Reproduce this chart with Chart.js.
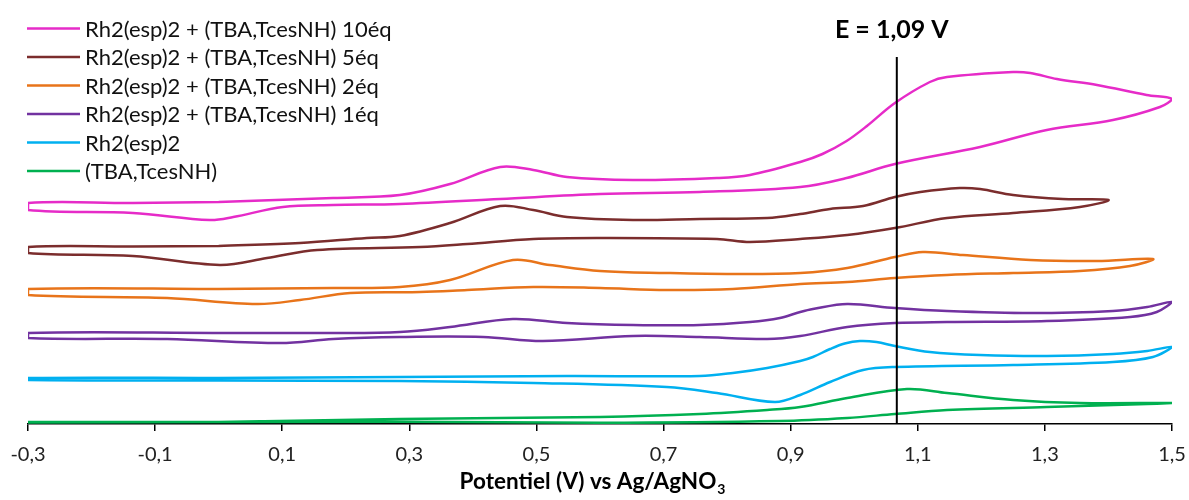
<!DOCTYPE html>
<html>
<head>
<meta charset="utf-8">
<script src="https://cdn.jsdelivr.net/npm/chart.js@4.4.0/dist/chart.umd.min.js"></script>
<style>
  html, body { margin: 0; padding: 0; background: #fff; }
  #wrap { width: 1189px; height: 500px; }
</style>
</head>
<body>
<div id="wrap"><canvas id="cv" width="1189" height="500"></canvas></div>
<script>
// potential (V) / current (arbitrary offset units), scan starts at 0 V
const rh10eq = [
  [0.0, 222], [0.18, 226], [0.285, 229], [0.364, 240], [0.443, 257], [0.495, 254], [0.548, 247],
  [0.652, 244], [0.784, 246], [0.836, 249], [0.915, 262], [0.95, 270], [0.988, 283], [1.02, 298],
  [1.064, 321], [1.119, 342], [1.146, 347], [1.25, 352], [1.277, 351], [1.319, 345], [1.382, 339],
  [1.46, 329], [1.5, 325],
  [1.481, 317], [1.407, 304], [1.303, 294], [1.198, 277], [1.064, 260], [0.988, 246], [0.915, 237],
  [0.757, 232], [0.6, 230], [0.443, 225], [0.285, 220], [0.18, 219], [0.101, 217], [0.023, 207],
  [-0.014, 204], [-0.135, 211], [-0.3, 214], [-0.3, 221], [-0.135, 221], [0.0, 222]
];
const rh5eq = [
  [0.0, 178], [0.128, 181], [0.233, 186], [0.285, 188], [0.364, 201], [0.443, 218], [0.495, 214],
  [0.548, 207], [0.652, 204], [0.757, 205], [0.863, 206], [0.915, 210], [0.962, 215], [1.014, 218],
  [1.064, 227], [1.104, 232], [1.166, 236], [1.198, 235], [1.25, 229], [1.328, 225], [1.4, 224],
  [1.355, 217], [1.25, 211], [1.146, 206], [1.064, 196], [0.989, 189], [0.915, 185], [0.836, 182],
  [0.784, 185], [0.6, 186], [0.495, 185], [0.391, 180], [0.317, 177], [0.155, 174], [0.076, 166],
  [0.002, 159], [-0.135, 168], [-0.3, 171], [-0.3, 177], [-0.135, 177.5], [0.0, 178]
];
const rh2eq = [
  [0.0, 135], [0.18, 136], [0.285, 137], [0.364, 144], [0.463, 164], [0.521, 159], [0.6, 153],
  [0.705, 151], [0.809, 150], [0.915, 151], [0.989, 156], [1.064, 167], [1.108, 172], [1.171, 169],
  [1.277, 164], [1.382, 163], [1.47, 165],
  [1.434, 158], [1.355, 153], [1.25, 151], [1.146, 149], [1.064, 146], [0.989, 142], [0.915, 140],
  [0.809, 135], [0.705, 134], [0.6, 136], [0.495, 137], [0.391, 134], [0.317, 132], [0.207, 131],
  [0.128, 124], [0.06, 120], [-0.081, 126], [-0.3, 129], [-0.3, 135], [0.0, 135]
];
const rh1eq = [
  [0.0, 91], [0.18, 91], [0.285, 92], [0.364, 97], [0.463, 105], [0.548, 101], [0.652, 99],
  [0.757, 99], [0.836, 102], [0.883, 106], [0.915, 112], [0.935, 115], [0.989, 120], [1.064, 116],
  [1.146, 113], [1.277, 111], [1.407, 113], [1.461, 117], [1.5, 122],
  [1.476, 112], [1.434, 107], [1.303, 103], [1.146, 102], [1.064, 101], [0.989, 97], [0.915, 88],
  [0.863, 85], [0.757, 87], [0.652, 88], [0.51, 83], [0.416, 87], [0.285, 87], [0.18, 85],
  [0.097, 81], [-0.081, 85], [-0.3, 86], [-0.3, 91], [0.0, 91]
];
const rhAlone = [
  [0.0, 46], [0.285, 47], [0.548, 48], [0.757, 48], [0.809, 51], [0.863, 56], [0.915, 63],
  [0.935, 67], [0.962, 75], [0.985, 80.5], [1.009, 83], [1.035, 82], [1.064, 78], [1.119, 72],
  [1.198, 69], [1.303, 68], [1.407, 70], [1.461, 73], [1.5, 77],
  [1.47, 67], [1.407, 62], [1.25, 59], [1.064, 57], [1.014, 54], [0.962, 42], [0.915, 29],
  [0.875, 22], [0.784, 31], [0.705, 37], [0.495, 41], [0.285, 43], [0.0, 43.5], [-0.3, 44],
  [-0.3, 46], [0.0, 46]
];
const tbaAlone = [
  [0.0, 2], [0.285, 5], [0.6, 7], [0.757, 10], [0.863, 14], [0.915, 17], [0.989, 26],
  [1.083, 35], [1.146, 31], [1.25, 24], [1.355, 21], [1.5, 21],
  [1.461, 20], [1.303, 17], [1.146, 14], [1.064, 10], [0.989, 6], [0.883, 3], [0.6, 1.3],
  [0.285, 2.3], [-0.3, 1.5], [-0.3, 2], [0.0, 2]
];

const seriesLabels = [
  'Rh2(esp)2 + (TBA,TcesNH) 10éq',
  'Rh2(esp)2 + (TBA,TcesNH) 5éq',
  'Rh2(esp)2 + (TBA,TcesNH) 2éq',
  'Rh2(esp)2 + (TBA,TcesNH) 1éq',
  'Rh2(esp)2',
  '(TBA,TcesNH)'
];
const seriesData = [rh10eq, rh5eq, rh2eq, rh1eq, rhAlone, tbaAlone];
const seriesColors = ['#E62BC8', '#7B2D2D', '#E8741A', '#7232A0', '#00B0F0', '#00B050'];

const xTicks = [-0.3, -0.1, 0.1, 0.3, 0.5, 0.7, 0.9, 1.1, 1.3, 1.5];
const markerE = 1.067;
const markerLabel = 'E = 1,09 V';
const yTop = 367;

const fmt = v => v.toFixed(1).replace('.', ',');

const datasets = seriesData.map((arr, i) => ({
  label: seriesLabels[i],
  data: arr.map(p => ({ x: p[0], y: p[1] })),
  borderColor: seriesColors[i],
  borderWidth: 2.5,
  showLine: true,
  pointRadius: 0,
  tension: 0.35,
  fill: false,
  order: 1
}));
datasets.push({
  label: '',
  data: [{ x: markerE, y: 0 }, { x: markerE, y: yTop }],
  borderColor: '#000',
  borderWidth: 2,
  showLine: true,
  pointRadius: 0,
  order: 0
});

const overlay = {
  id: 'overlay',
  afterDraw(chart) {
    const ctx = chart.ctx;
    ctx.save();
    // legend
    ctx.font = '22px Lato';
    ctx.textBaseline = 'middle';
    ctx.textAlign = 'left';
    seriesLabels.forEach((lab, i) => {
      const y = 28.5 + i * 28.5;
      ctx.strokeStyle = seriesColors[i];
      ctx.lineWidth = 2.5;
      ctx.beginPath();
      ctx.moveTo(27, y);
      ctx.lineTo(80, y);
      ctx.stroke();
      ctx.fillStyle = '#111';
      ctx.fillText(lab, 85, y + 1);
    });
    // E label
    const xs = chart.scales.x;
    ctx.font = 'bold 25px Lato';
    ctx.textAlign = 'center';
    ctx.textBaseline = 'alphabetic';
    ctx.fillStyle = '#000';
    ctx.fillText(markerLabel, xs.getPixelForValue(markerE) - 5, 38);
    // x title with subscript
    const main = 'Potentiel (V) vs Ag/AgNO';
    ctx.font = 'bold 22.5px Lato';
    const w1 = ctx.measureText(main).width;
    ctx.font = 'bold 14px Lato';
    const w2 = ctx.measureText('3').width;
    const x0 = 592 - (w1 + w2) / 2;
    ctx.textAlign = 'left';
    ctx.font = 'bold 22.5px Lato';
    ctx.fillText(main, x0, 489);
    ctx.font = 'bold 14px Lato';
    ctx.fillText('3', x0 + w1 + 1, 494);
    ctx.restore();
  }
};

new Chart(document.getElementById('cv'), {
  type: 'scatter',
  data: { datasets: datasets },
  options: {
    responsive: false,
    animation: false,
    layout: { padding: { left: 28, right: 17, top: 57, bottom: 0 } },
    plugins: { legend: { display: false }, tooltip: { enabled: false } },
    scales: {
      x: {
        type: 'linear',
        min: -0.3,
        max: 1.5,
        afterBuildTicks: (scale) => { scale.ticks = xTicks.map(v => ({ value: v })); },
        afterFit: (scale) => {
          scale.height = 76;
          scale.paddingLeft = 0;
          scale.paddingRight = 0;
        },
        ticks: {
          callback: (v) => fmt(v),
          font: { family: 'Lato', size: 20 },
          color: '#222',
          padding: 12,
          maxRotation: 0
        },
        grid: { drawOnChartArea: false, drawTicks: true, tickLength: 7, color: '#000', lineWidth: 1.5 },
        border: { color: '#000', width: 1.5 }
      },
      y: { display: false, min: 0, max: yTop }
    }
  },
  plugins: [overlay]
});
</script>
</body>
</html>
